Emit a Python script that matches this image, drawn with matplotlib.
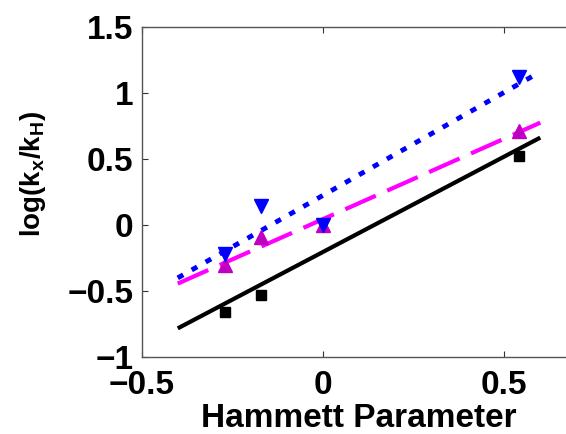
import matplotlib
matplotlib.use("Agg")
import matplotlib.pyplot as plt

# Hammett parameters of the substituents
sigma = [-0.27, -0.17, 0.0, 0.54]
sigma_black = [-0.27, -0.17, 0.54]

# log(kx/kH)
y_black = [-0.656, -0.526, 0.523]
y_magenta = [-0.305, -0.09, 0.0, 0.712]
y_blue = [-0.217, 0.142, 0.0, 1.12]

# fitted lines (endpoints)
fit_x = [-0.4, 0.6]
fit_black = [-0.782, 0.662]
fit_magenta = [-0.443, 0.775]
fit_blue = [-0.40, 1.16]

plt.rcParams['font.family'] = ['Liberation Sans', 'DejaVu Sans']
plt.rcParams['font.weight'] = 'bold'
plt.rcParams['mathtext.fontset'] = 'custom'
plt.rcParams['mathtext.rm'] = 'Liberation Sans:bold'
plt.rcParams['mathtext.it'] = 'Liberation Sans:bold'
plt.rcParams['mathtext.bf'] = 'Liberation Sans:bold'

fig = plt.figure(figsize=(5.66, 4.34), dpi=100)
ax = fig.add_axes([0.25, 0.177, 0.7686, 0.761])

ax.plot(fit_x, fit_black, color='black', lw=3, solid_capstyle='butt')
ax.plot(fit_x, fit_magenta, color='#FF00FF', lw=3, dashes=(8, 3))
ax.plot(fit_x, fit_blue, color='#0000FF', lw=3.5, dashes=(1.3, 2))

ax.plot(sigma_black, y_black, 's', color='black', ms=7, mec='black')
ax.plot(sigma, y_magenta, '^', color='#C000C0', ms=10, mec='#C000C0')
ax.plot(sigma, y_blue, 'v', color='#0000FF', ms=10, mec='#0000FF')

ax.set_xlim(-0.5, 0.7)
ax.set_ylim(-1, 1.5)
ax.set_xticks([-0.5, 0, 0.5])
ax.set_xticklabels(['\u22120.5', '0', '0.5'])
ax.set_yticks([-1, -0.5, 0, 0.5, 1, 1.5])
ax.set_yticklabels(['\u22121', '\u22120.5', '0', '0.5', '1', '1.5'])
ax.tick_params(direction='in', length=4, width=0.8, color='#333333',
               labelsize=24, top=True, right=True)
ax.tick_params(axis='y', pad=6)
ax.tick_params(axis='x', pad=9)
for s in ax.spines.values():
    s.set_color('#555555')
    s.set_linewidth(1.0)
for lab in ax.get_xticklabels() + ax.get_yticklabels():
    lab.set_fontweight('bold')

ax.set_xlabel('Hammett Parameter', fontsize=24, fontweight='bold', labelpad=2)
ax.set_ylabel(r'log(k$_\mathbf{x}$/k$_\mathbf{H}$)', fontsize=20,
              fontweight='bold')
ax.yaxis.set_label_coords(-0.216, 0.554)

fig.savefig('out.png', dpi=100)
